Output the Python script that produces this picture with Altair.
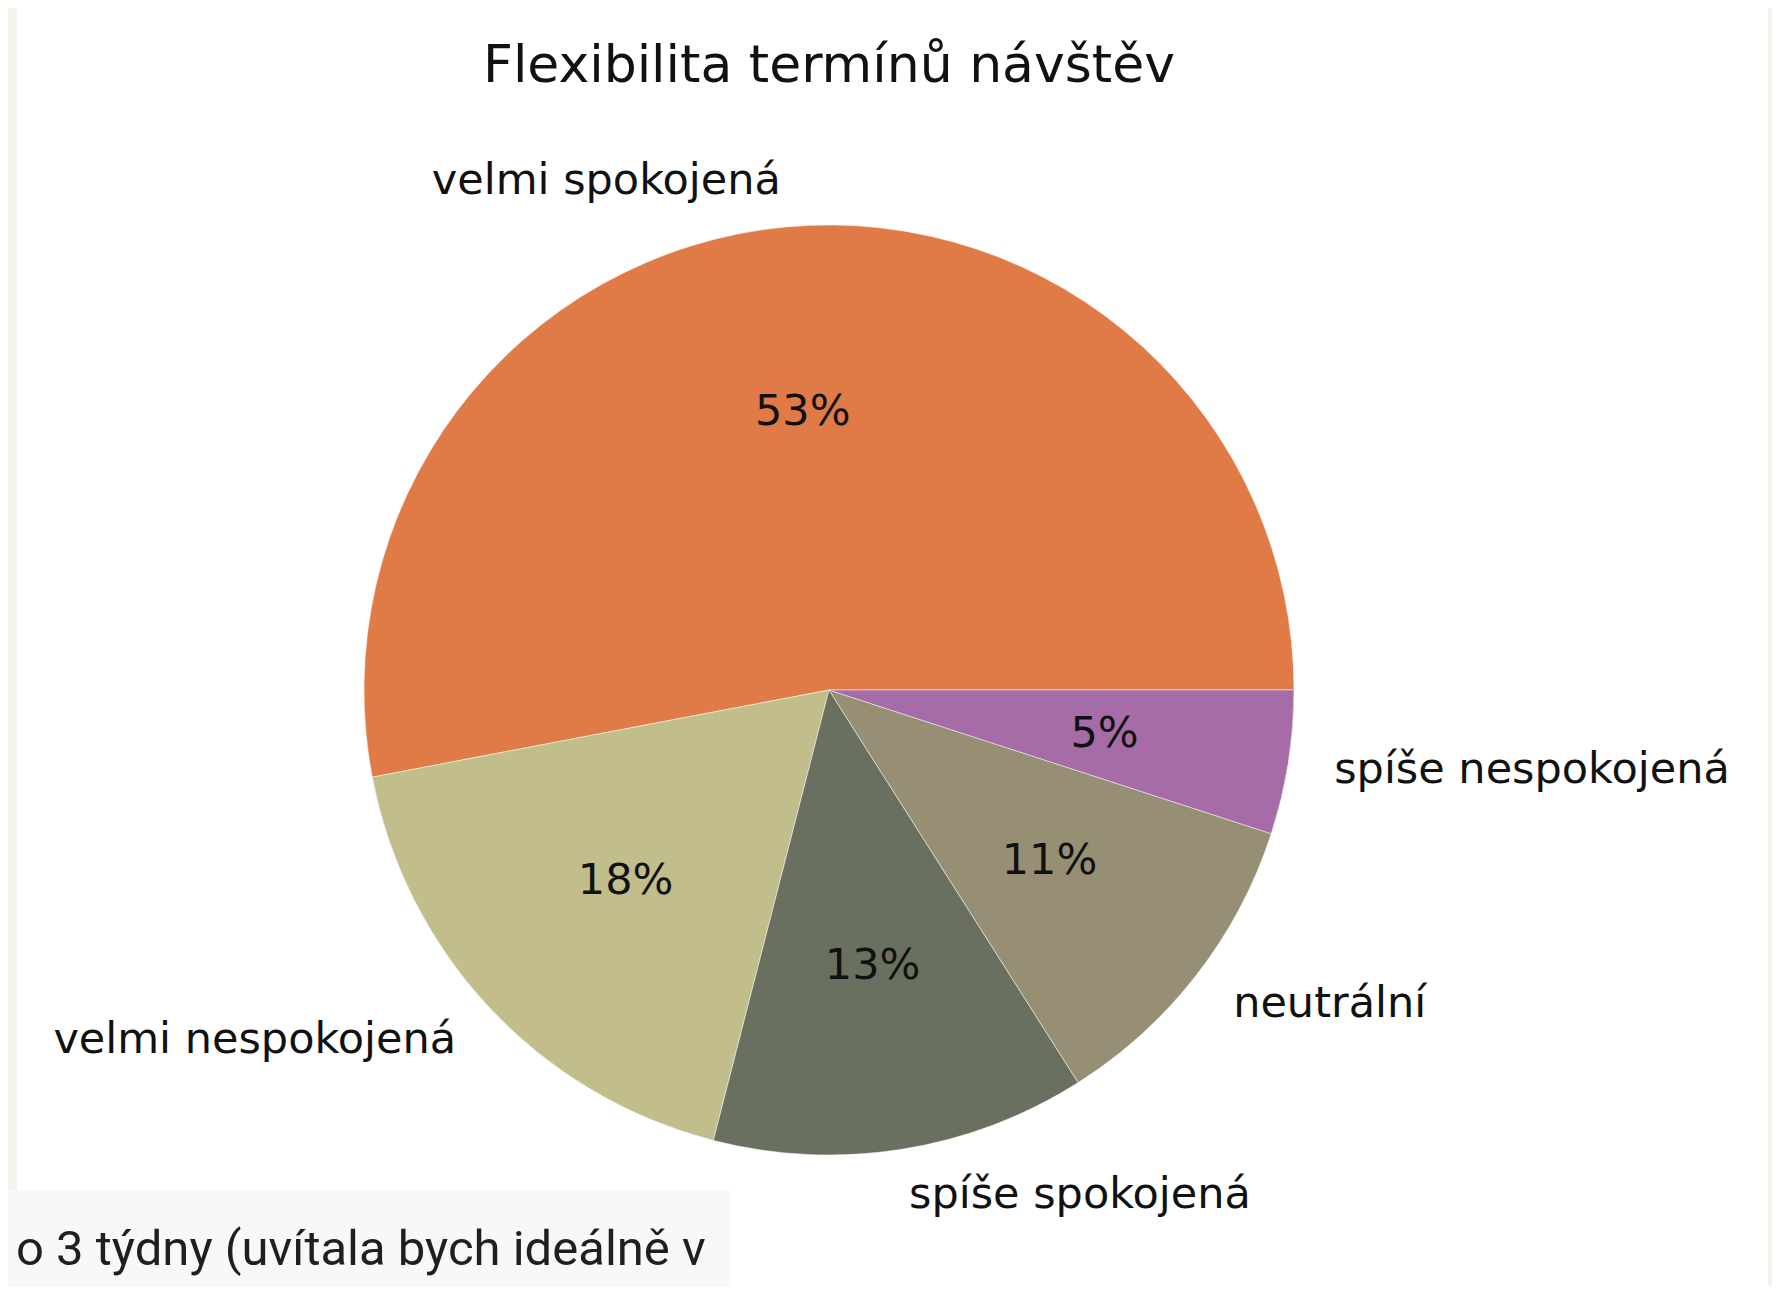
import math
import altair as alt
import pandas as pd

# ---- data ----
categories = ["velmi spokojená", "velmi nespokojená", "spíše spokojená", "neutrální", "spíše nespokojená"]
values = [53, 18, 13, 11, 5]
colors = ["#e07b47", "#c1be8c", "#6a705f", "#978f73", "#a66ca8"]
title_text = "Flexibilita termínů návštěv"
overlay_text = "o 3 týdny (uvítala bych ideálně v"

df = pd.DataFrame({"category": categories, "value": values, "idx": list(range(len(categories)))})

# ---- layout ----
PAD_L, PAD_R = 9, 4
W, H = 1764 - PAD_L - PAD_R, 1279
CX = 829 - 8 - PAD_L
CY = 690 - 8
R = 465
FONT = "DejaVu Sans"

# matplotlib style: start at 3 o'clock, counter-clockwise
theta_scale = alt.Scale(range=[math.pi / 2, math.pi / 2 - 2 * math.pi])

base = (
    alt.Chart(df)
    .transform_joinaggregate(total="sum(value)")
    .transform_window(cum="sum(value)", sort=[alt.SortField("idx", order="ascending")], frame=[None, 0])
    .transform_calculate(mid="(datum.cum - datum.value / 2) / datum.total")
    .transform_calculate(
        right="cos(2 * PI * datum.mid) >= 0",
        pct="format(datum.value / datum.total, '.0%')",
    )
    .transform_calculate(
        lab_r="datum.right ? datum.category : ''",
        lab_l="datum.right ? '' : datum.category",
    )
    .encode(
        theta=alt.Theta("value:Q", stack=True, scale=theta_scale),
        order=alt.Order("idx:Q", sort="ascending"),
        x=alt.value(CX),
        y=alt.value(CY),
    )
)

arcs = base.mark_arc(outerRadius=R, stroke="white", strokeWidth=0.8, strokeOpacity=0.6).encode(
    color=alt.Color("category:N", scale=alt.Scale(domain=categories, range=colors), legend=None)
)

txt = dict(font=FONT, fontSize=43, color="#111111", baseline="middle")
pct = base.mark_text(radius=0.6 * R, align="center", **txt).encode(text="pct:N")
lab_r = base.mark_text(radius=1.1 * R, align="left", **txt).encode(text="lab_r:N")
lab_l = base.mark_text(radius=1.1 * R, align="right", **txt).encode(text="lab_l:N")

title = alt.Chart(pd.DataFrame({"t": [title_text]})).mark_text(
    font=FONT, fontSize=52, color="#111111", align="center", baseline="alphabetic"
).encode(text="t:N", x=alt.value(CX), y=alt.value(82 - 8))

odf = pd.DataFrame({"t": [overlay_text]})
box = alt.Chart(odf).mark_rect(color="#f8f8f8").encode(
    x=alt.value(-PAD_L), x2=alt.value(730 - 8 - PAD_L), y=alt.value(1190 - 8), y2=alt.value(1300)
)
box_text = alt.Chart(odf).mark_text(
    font="Roboto", fontSize=49, color="#1f1f1f", align="left", baseline="alphabetic"
).encode(text="t:N", x=alt.value(16 - 8 - PAD_L), y=alt.value(1265 - 8))

chart = (
    alt.layer(arcs, pct, lab_r, lab_l, title, box, box_text)
    .properties(
        width=W,
        height=H,
        autosize=alt.AutoSizeParams(type="none"),
        padding={"left": PAD_L, "top": 0, "right": PAD_R, "bottom": 0},
        background="#f6f3ea",
    )
    .configure_view(fill="white", strokeWidth=0)
)

chart.save("out.html", embed_options={"renderer": "svg", "actions": False})
